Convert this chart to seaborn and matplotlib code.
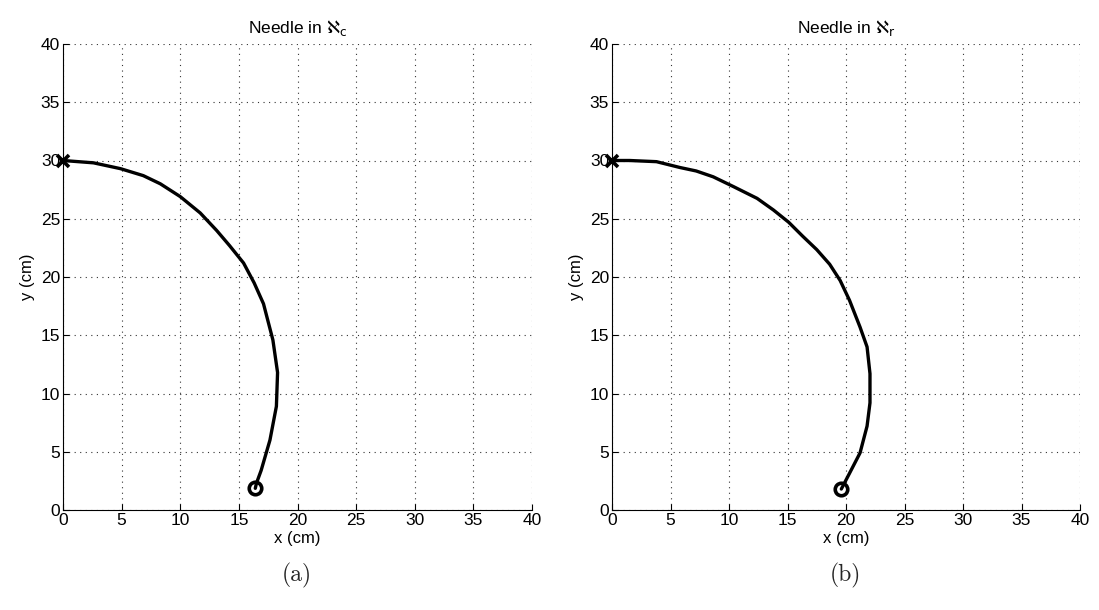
import matplotlib
matplotlib.use("Agg")
import matplotlib.pyplot as plt
import seaborn as sns
import pandas as pd

# Panel (a): needle path in aleph_c
x_a = [0.0, 2.6, 4.9, 6.85, 8.3, 10.0, 11.7, 13.1, 14.2, 15.4, 16.3, 17.1, 17.9, 18.3, 18.2, 17.65, 16.9, 16.5, 16.4]
y_a = [30.0, 29.8, 29.3, 28.7, 28.0, 26.9, 25.5, 24.0, 22.7, 21.2, 19.5, 17.7, 14.6, 11.8, 8.9, 6.0, 3.4, 2.3, 1.86]

# Panel (b): needle path in aleph_r
x_b = [0.0, 1.5, 3.8, 5.8, 7.2, 8.65, 10.4, 12.4, 13.8, 15.1, 16.3, 17.5, 18.6, 19.5, 20.3, 21.2, 21.8, 22.05, 22.05, 21.8, 21.2, 20.3, 19.6]
y_b = [30.0, 30.0, 29.9, 29.4, 29.1, 28.6, 27.75, 26.75, 25.75, 24.7, 23.5, 22.35, 21.1, 19.7, 18.0, 15.7, 14.0, 11.7, 9.2, 7.2, 4.9, 3.15, 1.8]

titles = [r"Needle in $\aleph_{\mathrm{c}}$", r"Needle in $\aleph_{\mathrm{r}}$"]
captions = ["(a)", "(b)"]
ticks = [0, 5, 10, 15, 20, 25, 30, 35, 40]

sns.set_theme(style="white")
plt.rcParams["font.family"] = ["Liberation Sans", "DejaVu Sans"]
plt.rcParams["mathtext.fontset"] = "dejavusans"

fig = plt.figure(figsize=(10.99, 6.10), dpi=100)
rects = [[63 / 1099, 1 - 510 / 610, 469 / 1099, 466 / 610],
         [612 / 1099, 1 - 510 / 610, 468 / 1099, 466 / 610]]
cap_x = [297 / 1099, 845 / 1099]

for i, (xs, ys) in enumerate([(x_a, y_a), (x_b, y_b)]):
    ax = fig.add_axes(rects[i])
    df = pd.DataFrame({"x": xs, "y": ys})
    sns.lineplot(data=df, x="x", y="y", sort=False, estimator=None, color="black",
                 linewidth=2.4, ax=ax)
    ax.plot(xs[-1:], ys[-1:], marker="o", markersize=9, mfc="none", mec="black", mew=2.6,
            linestyle="none", clip_on=False)
    ax.plot(xs[:1], ys[:1], marker="x", markersize=8, mec="black", mew=2.6,
            linestyle="none", clip_on=False)
    ax.set_xlim(0, 40)
    ax.set_ylim(0, 40)
    ax.set_xticks(ticks)
    ax.set_yticks(ticks)
    ax.grid(True, linestyle=(0, (1, 4)), color="#333333", linewidth=0.8)
    for s in ["top", "right"]:
        ax.spines[s].set_visible(False)
    for s in ["left", "bottom"]:
        ax.spines[s].set_color("black")
        ax.spines[s].set_linewidth(0.8)
    ax.tick_params(direction="in", length=4, width=0.8, colors="black", labelsize=12.5, pad=2,
                   left=True, bottom=True)
    ax.set_xlabel("x (cm)", fontsize=12, labelpad=2, color="black")
    ax.set_ylabel("y (cm)", fontsize=12, labelpad=4, color="black")
    ax.set_title(titles[i], fontsize=12.5, pad=8, color="black")
    fig.text(cap_x[i], 1 - 575 / 610, captions[i], ha="center", va="center",
             fontsize=17, family=["cmr10", "DejaVu Serif"])

fig.savefig("out.png", dpi=100)
